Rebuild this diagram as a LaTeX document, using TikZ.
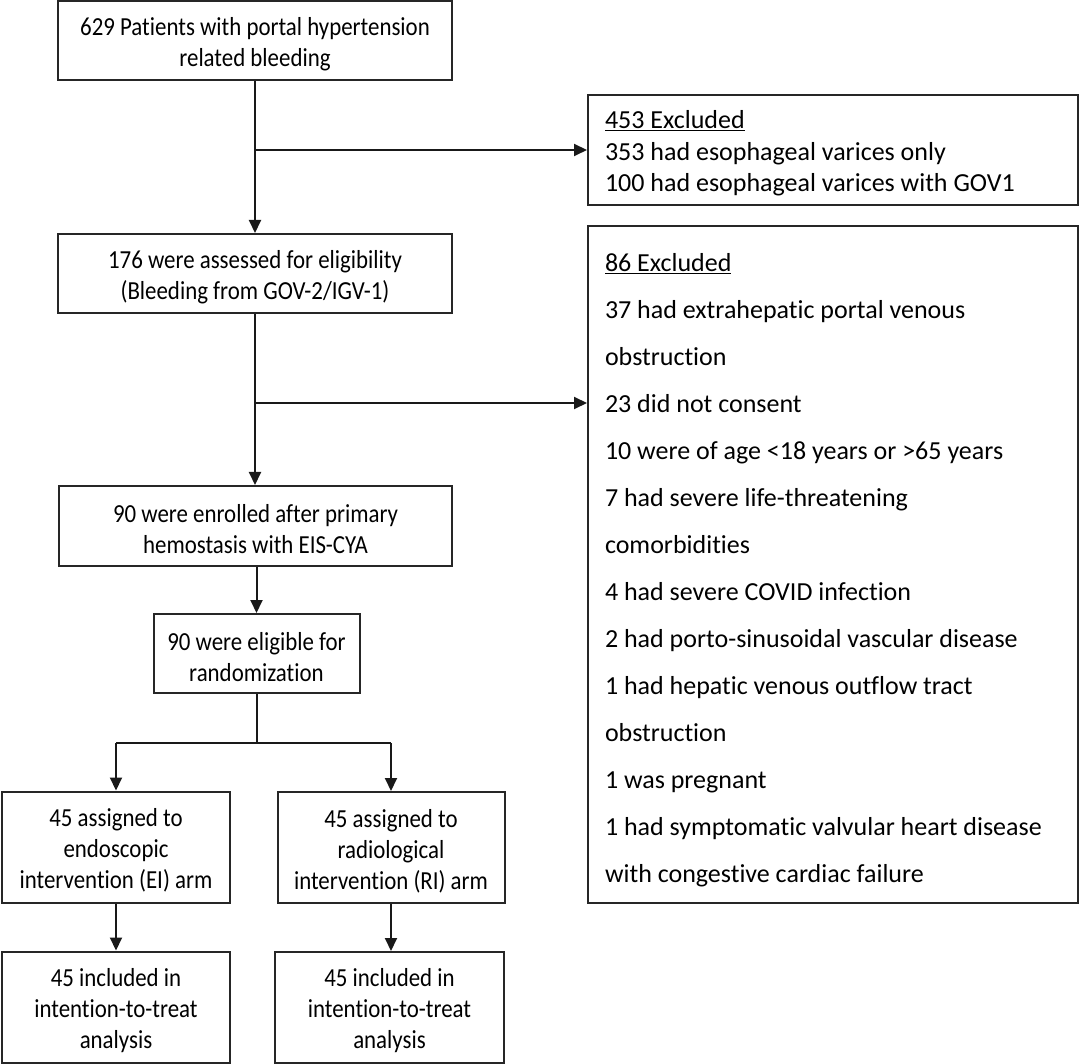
\documentclass[tikz,border=0pt]{standalone}
\usepackage{fontspec}
\setmainfont{Carlito}[Ligatures=NoCommon]
\newfontfamily\narrowfont{Carlito}[Ligatures=NoCommon, FakeStretch=0.88]
\usetikzlibrary{arrows.meta}
\newcommand{\tup}[1]{\rule{0pt}{#1}}
\begin{document}
\begin{tikzpicture}[x=1pt,y=-1pt,
  box/.style={draw=black!85, line width=2pt, align=center, inner sep=0pt,
    font=\narrowfont\fontsize{26}{31}\selectfont},
  exbox/.style={draw=black!85, line width=2pt, align=flush left, inner ysep=0pt, inner xsep=17pt,
    text width=456pt, minimum width=490pt},
  arr/.style={line width=2pt, draw=black!90, -{Triangle[length=13pt,width=12pt]}},
  ln/.style={line width=2pt, draw=black!90}
]
\useasboundingbox (0,0) rectangle (1080,1064);

\node[box, minimum width=394pt, minimum height=79pt] (b1) at (255,40.5)
  {\tup{25pt}629 Patients with portal hypertension\\related bleeding};
\node[exbox, minimum height=110pt, font=\fontsize{26}{31.5}\selectfont] (ex1) at (833,150)
  {\tup{25pt}\underline{453 Excluded}\\353 had esophageal varices only\\100 had esophageal varices with GOV1};
\node[box, minimum width=394pt, minimum height=79pt] (b2) at (255,273.5)
  {\tup{25pt}176 were assessed for eligibility\\(Bleeding from GOV-2/IGV-1)};
\node[exbox, minimum height=677pt, font=\fontsize{26}{47}\selectfont] (ex2) at (833,564.5)
  {\tup{29pt}\underline{86 Excluded}\\
   37 had extrahepatic portal venous\\
   obstruction\\
   23 did not consent\\
   10 were of age <18 years or >65 years\\
   7 had severe life-threatening\\
   comorbidities\\
   4 had severe COVID infection\\
   2 had porto-sinusoidal vascular disease\\
   1 had hepatic venous outflow tract\\
   obstruction\\
   1 was pregnant\\
   1 had symptomatic valvular heart disease\\
   with congestive cardiac failure};
\node[box, minimum width=393pt, minimum height=80pt] (b3) at (255.5,526)
  {\tup{25pt}90 were enrolled after primary\\hemostasis with EIS-CYA};
\node[box, minimum width=206pt, minimum height=79pt] (b4) at (256.5,653.5)
  {\tup{25pt}90 were eligible for\\randomization};
\node[box, minimum width=228pt, minimum height=111pt] (b5) at (116,847)
  {\tup{25pt}45 assigned to\\endoscopic\\intervention (EI) arm};
\node[box, minimum width=227pt, minimum height=111pt] (b6) at (391,847.5)
  {\tup{25pt}45 assigned to\\radiological\\intervention (RI) arm};
\node[box, minimum width=228pt, minimum height=111pt] (b7) at (116,1007)
  {\tup{25pt}45 included in\\intention-to-treat\\analysis};
\node[box, minimum width=229pt, minimum height=111pt] (b8) at (389.5,1007.5)
  {\tup{25pt}45 included in\\intention-to-treat\\analysis};

\coordinate (j1) at (255,150);
\coordinate (j2) at (255,403);
\coordinate (j3) at (256.5,743);
\coordinate (jl) at (116,743);
\coordinate (jr) at (391,743);

\draw[arr] (b1.south) -- (b2.north);
\draw[arr] (j1) -- (ex1.west);
\draw[arr] (b2.south) -- (b3.north -| b2.south);
\draw[arr] (j2) -- (j2 -| ex2.west);
\draw[arr] (b3.south -| b4.north) -- (b4.north);
\draw[ln] (b4.south) -- (j3);
\draw[ln] (jl) -- (jr);
\draw[arr] (jl) -- (b5.north);
\draw[arr] (jr) -- (b6.north);
\draw[arr] (b5.south) -- (b7.north);
\draw[arr] (b6.south) -- (b6.south |- b8.north);
\end{tikzpicture}
\end{document}
